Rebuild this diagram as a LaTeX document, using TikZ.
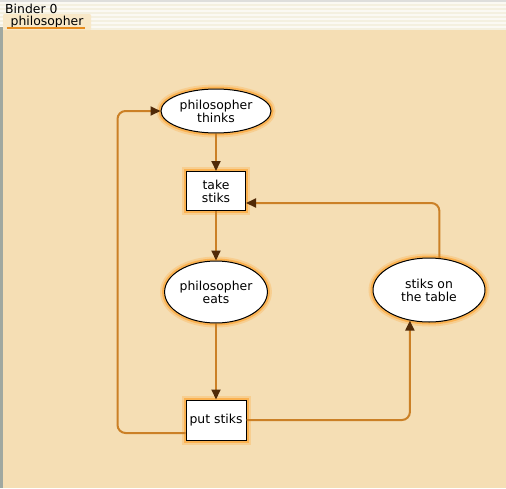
\documentclass[tikz,border=0pt]{standalone}
\usepackage{fontspec}
\setmainfont{DejaVu Sans}
\usetikzlibrary{positioning,arrows.meta,shapes,calc}
\definecolor{canvas}{RGB}{245,222,180}
\definecolor{wire}{RGB}{203,128,38}
\definecolor{tipbrown}{RGB}{80,42,8}
\definecolor{glow}{RGB}{255,160,40}
\definecolor{tabfill}{RGB}{248,232,200}
\definecolor{tabline}{RGB}{232,140,30}
\definecolor{stripe}{RGB}{244,240,224}
\definecolor{topgray}{RGB}{222,222,220}
\definecolor{sidegray}{RGB}{160,168,160}

\begin{document}
\begin{tikzpicture}[x=1pt,y=-1pt,
  font=\fontsize{12.4}{13}\selectfont,
  halo/.style={preaction={draw=glow, line width=9pt, opacity=0.25},
               preaction={draw=glow, line width=5pt, opacity=0.6}},
  place/.style={ellipse, halo, draw=black, line width=1pt, fill=white, align=center, inner sep=0pt},
  trans/.style={rectangle, halo, draw=black, line width=1pt, fill=white, align=center, inner sep=3pt},
  arc/.style={draw=wire, line width=2pt, rounded corners=8pt, -{Triangle[length=10pt,width=9pt,color=tipbrown]}}]
\useasboundingbox (0,0) rectangle (506,488);
% Window
\fill[white!60!stripe] (0,0) rectangle (506,30);
\foreach \y in {4,8,...,28} \fill[stripe] (0,\y) rectangle (506,\y+2);
\fill[topgray] (0,0) rectangle (506,2);
\fill[canvas] (0,30) rectangle (506,488);
\fill[sidegray] (0,27) rectangle (3,488);
\node[anchor=base west, inner sep=0pt] (binder) at (5,13) {Binder 0};
\node[fill=tabfill, inner sep=0pt, minimum width=88pt, minimum height=16pt, rounded corners=1pt] (tab) at (47,22) {philosopher};
\draw[tabline, line width=1.5pt] ([xshift=4pt,yshift=2pt]tab.south west) -- ([xshift=-6pt,yshift=2pt]tab.south east);

% Places
\node[place, minimum width=110pt, minimum height=44pt] (thinks) at (216,111) {philosopher\\thinks};
\node[place, minimum width=102pt, minimum height=62pt] (eats) at (216,292) {philosopher\\eats};
\node[place, minimum width=112pt, minimum height=64pt] (table) at (429,290) {stiks on\\the table};
% Transitions
\node[trans, minimum width=59pt, minimum height=39pt] (take) at (216,191) {take\\stiks};
\node[trans, minimum width=60pt, minimum height=40pt] (put) at (216,420) {put stiks};

% Arcs
\draw[arc] (thinks) -- (take);
\draw[arc] (take) -- (eats);
\draw[arc] (eats) -- (put);
\draw[arc] (put.east) -| (table.238);
\draw[arc] (table.72) |- ([yshift=-12pt]take.east);
\draw[arc] ([yshift=-13pt]put.west) -| ([xshift=-43pt]thinks.west) -- (thinks.west);
\end{tikzpicture}
\end{document}
